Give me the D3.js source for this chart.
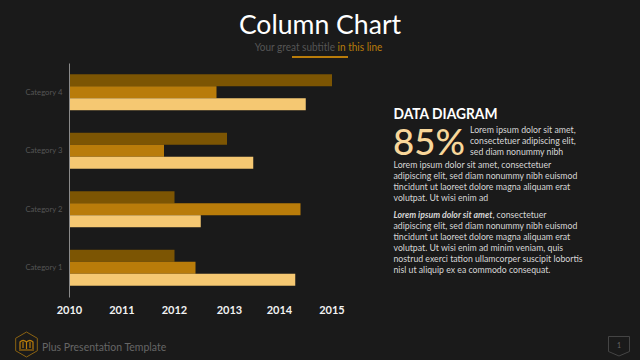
<!DOCTYPE html>
<html>
<head>
<meta charset="utf-8">
<script src="https://cdn.jsdelivr.net/npm/d3@7"></script>
<style>
  html, body { margin: 0; padding: 0; background: #1a1a1a; }
  svg { display: block; font-family: Lato, sans-serif; }
</style>
</head>
<body>
<svg width="640" height="360"></svg>
<script>
const categories = ["Category 4", "Category 3", "Category 2", "Category 1"];
const seriesNames = ["dark", "mid", "light"];
const darkValues = [5.0, 3.0, 2.0, 2.0];
const midValues = [2.8, 1.8, 4.4, 2.4];
const lightValues = [4.5, 3.5, 2.5, 4.3];
const yearLabels = ["2010", "2011", "2012", "2013", "2014", "2015"];
const yearTicks = [0, 1, 2, 3, 4, 5];

const leadLines = ["Lorem ipsum dolor sit amet,", "consectetuer adipiscing elit,", "sed diam nonummy nibh"];
const bodyLines = ["Lorem ipsum dolor sit amet, consectetuer", "adipiscing elit, sed diam nonummy nibh euismod", "tincidunt ut laoreet dolore magna aliquam erat", "volutpat. Ut wisi enim ad"];
const body2Lines = ["adipiscing elit, sed diam nonummy nibh euismod", "tincidunt ut laoreet dolore magna aliquam erat", "volutpat. Ut wisi enim ad minim veniam, quis", "nostrud exerci tation ullamcorper suscipit lobortis", "nisl ut aliquip ex ea commodo consequat."];

const colors = { dark: "#7c5503", mid: "#b97c0a", light: "#f5c872" };
const series = { dark: darkValues, mid: midValues, light: lightValues };

const svg = d3.select("svg");

// the original face is narrower than Lato, so squeeze text a bit
const squeeze = 0.92;
function putText(px, py) {
  return svg.append("text").attr("transform", "translate(" + px + "," + py + ") scale(" + squeeze + ",1)");
}

// header
svg.append("text").attr("x", 320).attr("y", 34).attr("text-anchor", "middle")
  .attr("fill", "#fff").attr("font-size", 26.6).text("Column Chart");
const sub = putText(318.5, 51).attr("text-anchor", "middle")
  .attr("font-size", 10.9).attr("fill", "#555");
sub.append("tspan").text("Your great subtitle ");
sub.append("tspan").attr("fill", "#b97c0a").text("in this line");
svg.append("rect").attr("x", 292).attr("y", 56).attr("width", 56).attr("height", 2).attr("fill", "#b97c0a");

// chart
const x = d3.scaleLinear().domain([0, 5]).range([69.5, 332]);
const y = d3.scaleBand().domain(categories).range([63, 297]).paddingInner(0.385).paddingOuter(0.1925);
const inner = d3.scaleBand().domain(seriesNames).range([0, y.bandwidth()]);

const groups = svg.selectAll("g.cat").data(categories).join("g")
  .attr("class", "cat")
  .attr("transform", d => "translate(0," + y(d) + ")");

groups.selectAll("rect")
  .data((d, i) => seriesNames.map(s => ({ s: s, v: series[s][i] })))
  .join("rect")
  .attr("x", x(0))
  .attr("y", d => inner(d.s))
  .attr("width", d => x(d.v) - x(0))
  .attr("height", inner.bandwidth())
  .attr("fill", d => colors[d.s]);

const yAxis = svg.append("g").attr("transform", "translate(69,0)")
  .call(d3.axisLeft(y).tickSize(0).tickPadding(7));
yAxis.select(".domain").attr("stroke", "#8a8a8a").attr("stroke-width", 1);
yAxis.selectAll("text").attr("fill", "#555").attr("font-size", 8.4).attr("font-family", "Lato, sans-serif")
  .attr("transform", "scale(" + squeeze + ",1)");

const xAxis = svg.append("g").attr("transform", "translate(-0.5,297)")
  .call(d3.axisBottom(x).tickValues(yearTicks).tickFormat((d, i) => yearLabels[i]).tickSize(0).tickPadding(9));
xAxis.select(".domain").remove();
xAxis.selectAll("text").attr("fill", "#f2f2f2").attr("font-size", 11).attr("font-weight", 700).attr("font-family", "Lato, sans-serif");
// the 2013 label sits a little off its tick in the original
xAxis.selectAll("text").filter(d => d === 3).attr("dx", 2.5);

// right text block
putText(393.5, 119).attr("fill", "#fff")
  .attr("font-size", 15).attr("font-weight", 700).text("DATA DIAGRAM");
svg.append("text").attr("x", 393).attr("y", 155).attr("fill", "#f8d79a")
  .attr("font-size", 36.6).attr("font-weight", 500).text("85%");

function block(lines, left, top) {
  lines.forEach((line, i) => {
    putText(left, top + i * 11.1).attr("fill", "#d6d6d6").attr("font-size", 9.5).text(line);
  });
}
block(leadLines, 470, 133);
block(bodyLines, 393.5, 168);
const strong = putText(393.5, 218).attr("fill", "#d6d6d6").attr("font-size", 9.5);
strong.append("tspan").attr("font-weight", 700).attr("font-style", "italic").text("Lorem ipsum dolor sit amet");
strong.append("tspan").text(", consectetuer");
block(body2Lines, 393.5, 229);

// footer logo
const cx = 26.5, cy = 344.5, r = 12.5;
const hex = d3.range(6).map(i => {
  const a = Math.PI / 3 * i + Math.PI / 6;
  return [cx + r * Math.cos(a), cy + r * Math.sin(a)];
});
svg.append("path").attr("d", d3.line()(hex) + "Z").attr("fill", "none").attr("stroke", "#8a6212").attr("stroke-width", 1);
svg.append("path")
  .attr("d", "M20,349V342Q23,339 26.5,342Q30,339 33,342V349M26.5,342V349M23,342V348M30,342V348M19,350H34")
  .attr("fill", "none").attr("stroke", "#b97c0a").attr("stroke-width", 1.2);
putText(42, 351).attr("fill", "#666").attr("font-size", 11.4).text("Plus Presentation Template");

// page number badge
svg.append("path").attr("d", "M608.5,336.5H629.5V351.5L619,356L608.5,351.5Z")
  .attr("fill", "none").attr("stroke", "#444").attr("stroke-width", 1);
svg.append("text").attr("x", 619).attr("y", 348).attr("text-anchor", "middle")
  .attr("fill", "#666").attr("font-size", 7).text("1");
</script>
</body>
</html>
